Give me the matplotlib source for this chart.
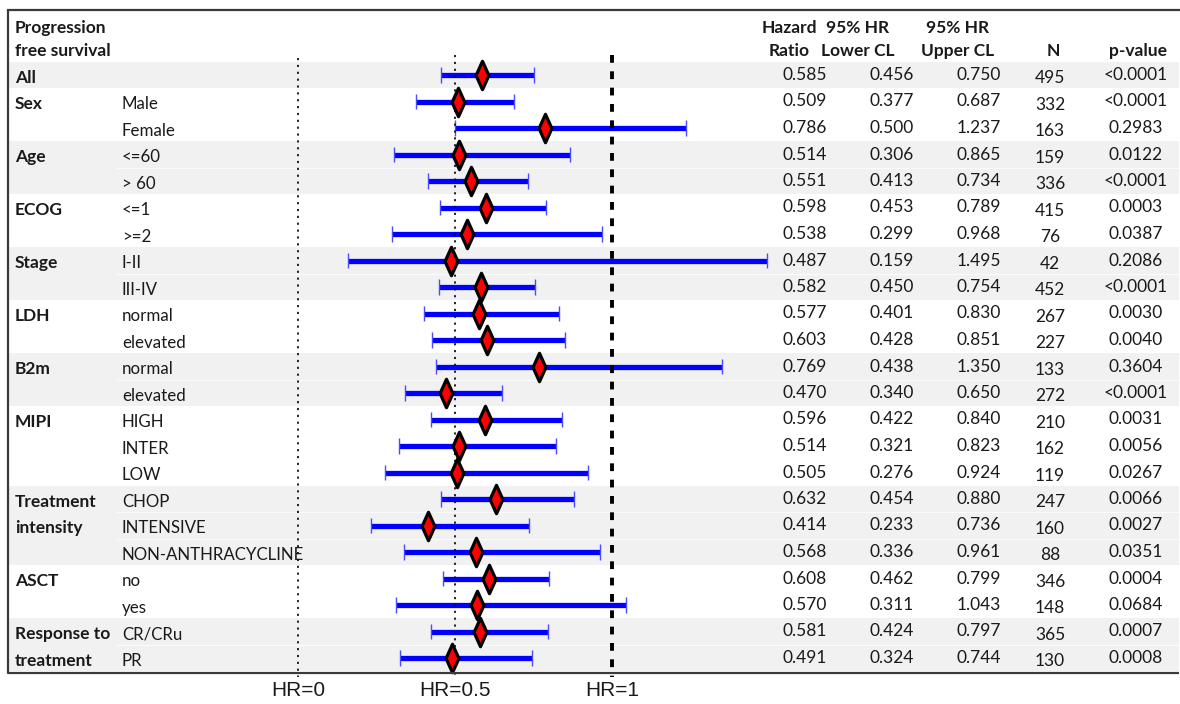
import matplotlib
matplotlib.use("Agg")
import matplotlib.pyplot as plt
import matplotlib.transforms as mtransforms
from matplotlib.path import Path
from matplotlib.patches import Rectangle

# ---- data ---------------------------------------------------------------
groups = ["All", "Sex", "", "Age", "", "ECOG", "", "Stage", "", "LDH", "",
          "B2m", "", "MIPI", "", "", "Treatment", "intensity", "", "ASCT", "",
          "Response to", "treatment"]
subgroups = ["", "Male", "Female", "<=60", "> 60", "<=1", ">=2", "I-II", "III-IV",
             "normal", "elevated", "normal", "elevated", "HIGH", "INTER", "LOW",
             "CHOP", "INTENSIVE", "NON-ANTHRACYCLINE", "no", "yes", "CR/CRu", "PR"]
hazard_ratio = [0.585, 0.509, 0.786, 0.514, 0.551, 0.598, 0.538, 0.487, 0.582,
                0.577, 0.603, 0.769, 0.470, 0.596, 0.514, 0.505, 0.632, 0.414,
                0.568, 0.608, 0.570, 0.581, 0.491]
lower_cl = [0.456, 0.377, 0.500, 0.306, 0.413, 0.453, 0.299, 0.159, 0.450,
            0.401, 0.428, 0.438, 0.340, 0.422, 0.321, 0.276, 0.454, 0.233,
            0.336, 0.462, 0.311, 0.424, 0.324]
upper_cl = [0.750, 0.687, 1.237, 0.865, 0.734, 0.789, 0.968, 1.495, 0.754,
            0.830, 0.851, 1.350, 0.650, 0.840, 0.823, 0.924, 0.880, 0.736,
            0.961, 0.799, 1.043, 0.797, 0.744]
n_patients = [495, 332, 163, 159, 336, 415, 76, 42, 452, 267, 227, 133, 272,
              210, 162, 119, 247, 160, 88, 346, 148, 365, 130]
p_values = ["<0.0001", "<0.0001", "0.2983", "0.0122", "<0.0001", "0.0003",
            "0.0387", "0.2086", "<0.0001", "0.0030", "0.0040", "0.3604",
            "<0.0001", "0.0031", "0.0056", "0.0267", "0.0066", "0.0027",
            "0.0351", "0.0004", "0.0684", "0.0007", "0.0008"]
# (first row, last row) of each shaded block
shaded_blocks = [(0, 0), (3, 4), (7, 8), (11, 12), (16, 18), (21, 22)]
reference_hr = [0, 0.5, 1]
reference_labels = ["HR=0", "HR=0.5", "HR=1"]

# ---- figure -------------------------------------------------------------
W, H = 1180, 704
fig = plt.figure(figsize=(W / 100, H / 100), dpi=100)
ax = fig.add_axes([0, 0, 1, 1])
ax.set_axis_off()

x0_px, px_per_hr = 298.0, 314.0
y0_px, px_per_row = 75.0, 26.5
ax.set_xlim(-x0_px / px_per_hr, (W - x0_px) / px_per_hr)
ax.set_ylim((H - y0_px) / px_per_row, -y0_px / px_per_row)

# x in figure-fraction, y in row units
tr = mtransforms.blended_transform_factory(ax.transAxes, ax.transData)

def fx(px):
    return px / W

def rows_px(px):
    return (px - y0_px) / px_per_row

TEXT = "#1a1a1a"
FONT = ["Lato", "DejaVu Sans"]
FS = 12.5

# shaded blocks
for r0, r1 in shaded_blocks:
    ax.add_patch(Rectangle((fx(9), r0 - 0.5), fx(1179) - fx(9), r1 - r0 + 1,
                           transform=tr, facecolor="#f1f1f1", edgecolor="none",
                           zorder=0))
    for r in range(r0, r1):
        ax.plot([fx(117), fx(1179)], [r + 0.5, r + 0.5], transform=tr,
                color="#fbfbfb", lw=0.8, zorder=0.5)

# frame
ax.plot([fx(8), fx(8), fx(1179)], [rows_px(10), rows_px(673), rows_px(673)],
        transform=tr, color="#3a3a3a", lw=1.6, zorder=5, solid_capstyle="butt")
ax.plot([fx(8), fx(1179)], [rows_px(10), rows_px(10)],
        transform=tr, color="#3a3a3a", lw=1.6, zorder=5)

rows = list(range(len(hazard_ratio)))

# confidence intervals
ax.hlines(rows, lower_cl, upper_cl, colors="#0000ff", lw=3.8, zorder=2)
ax.vlines(lower_cl, [r - 0.3 for r in rows], [r + 0.3 for r in rows],
          colors="#4a4aff", lw=1.0, zorder=2)
ax.vlines(upper_cl, [r - 0.3 for r in rows], [r + 0.3 for r in rows],
          colors="#4a4aff", lw=1.0, zorder=2)

# reference lines
ax.plot([reference_hr[0]] * 2, [rows_px(58), rows_px(677)], color="#111111",
        lw=1.3, ls=(0, (1.2, 2.6)), zorder=3)
ax.plot([reference_hr[1]] * 2, [rows_px(55), rows_px(677)], color="#111111",
        lw=1.3, ls=(0, (1.2, 2.6)), zorder=3)
ax.plot([reference_hr[2]] * 2, [rows_px(55), rows_px(677)], color="#000000",
        lw=2.8, ls=(0, (2.0, 2.2)), zorder=3)

# point estimates
diamond = Path([(0, 1), (0.45, 0), (0, -1), (-0.45, 0), (0, 1)],
               [Path.MOVETO, Path.LINETO, Path.LINETO, Path.LINETO, Path.CLOSEPOLY])
ax.plot(hazard_ratio, rows, ls="none", marker=diamond, ms=20.5, mfc="#ff0000",
        mec="#000000", mew=2.3, zorder=4)

# reference labels
for hr, lab in zip(reference_hr, reference_labels):
    ax.text(hr, rows_px(691), lab, ha="center", va="center", fontsize=15,
            family=["Liberation Sans", "DejaVu Sans"], color=TEXT)

# headers
hdr = dict(fontsize=FS, fontweight="bold", family=FONT, color=TEXT,
           va="center", transform=tr)
ax.text(fx(15), rows_px(28), "Progression", ha="left", **hdr)
ax.text(fx(15), rows_px(51), "free survival", ha="left", **hdr)
for cx, l1, l2 in [(789, "Hazard", "Ratio"), (858, "95% HR", "Lower CL"),
                   (958, "95% HR", "Upper CL"), (1053, "", "N"),
                   (1138, "", "p-value")]:
    if l1:
        ax.text(fx(cx), rows_px(28), l1, ha="center", **hdr)
    ax.text(fx(cx), rows_px(51), l2, ha="center", **hdr)

# row labels and values
body = dict(fontsize=FS, family=FONT, color=TEXT, va="center", transform=tr)
sub = dict(body, fontsize=12.2)
for r in rows:
    if groups[r]:
        ax.text(fx(15), r + 0.1, groups[r], ha="left", fontweight="bold", **body)
    if subgroups[r]:
        ax.text(fx(122), r + 0.1, subgroups[r], ha="left", **sub)
    ax.text(fx(827), r, f"{hazard_ratio[r]:.3f}", ha="right", **body)
    ax.text(fx(914), r, f"{lower_cl[r]:.3f}", ha="right", **body)
    ax.text(fx(1001), r, f"{upper_cl[r]:.3f}", ha="right", **body)
    ax.text(fx(1050), r + 0.12, f"{n_patients[r]}", ha="center", **body)
    ax.text(fx(1136), r, p_values[r], ha="center", **body)

fig.savefig("out.png", dpi=100)
